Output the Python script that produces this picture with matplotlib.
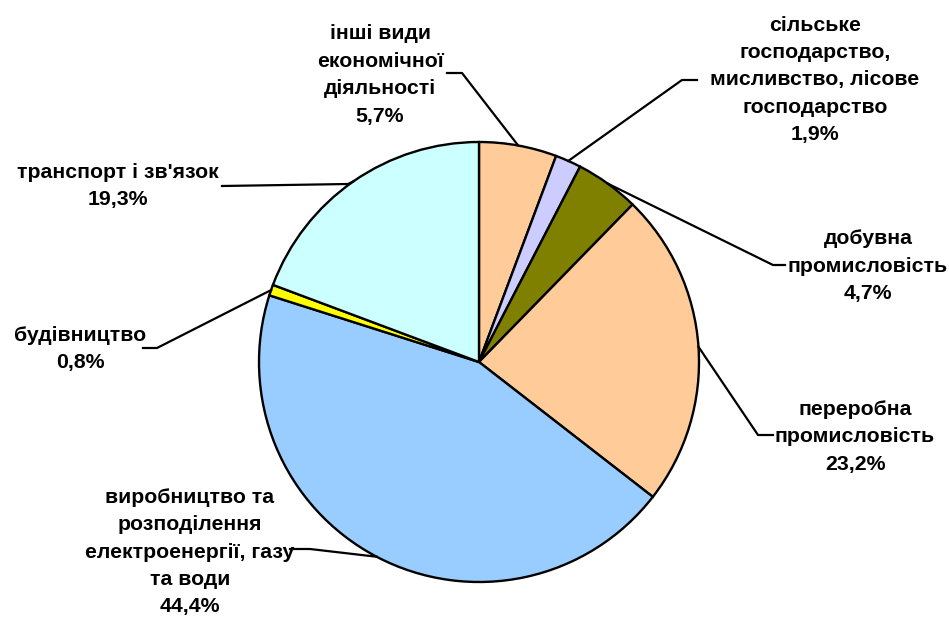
import numpy as np
import matplotlib
matplotlib.use('Agg')
import matplotlib.pyplot as plt

# data, clockwise from 12 o'clock
labels = ['інші види\nекономічної\nдіяльності',
          'сільське\nгосподарство,\nмисливство, лісове\nгосподарство',
          'добувна\nпромисловість',
          'переробна\nпромисловість',
          'виробництво та\nрозподілення\nелектроенергії, газу\nта води',
          'будівництво',
          'транспорт і зв\'язок']
shares = [5.7, 1.9, 4.7, 23.2, 44.4, 0.8, 19.3]
colors = ['#FFCC99', '#CCCCFF', '#808000', '#FFCC99', '#99CCFF', '#FFFF00', '#CCFFFF']

W, H = 950, 618
cx, cy, r = 479, H - 362, 220

# label placement (pixel layout): text centre, elbow point, end of horizontal tick
label_pos = [(380, 75), (815, 80), (868, 266), (855, 437), (190, 552), (80, 349), (118, 186)]
elbows = [((462, 73), (447, 73)),
          ((682, 80), (697, 80)),
          ((773, 265), (785, 265)),
          ((758, 435), (773, 435)),
          ((310, 549), (290, 549)),
          ((157, 348), (143, 348)),
          ((348, 184), (222, 186))]

plt.rcParams['font.family'] = ['Liberation Sans', 'DejaVu Sans']

fig = plt.figure(figsize=(W / 100, H / 100), dpi=100)
ax = fig.add_axes([0, 0, 1, 1])

wedges, _ = ax.pie(shares, colors=colors, startangle=90, counterclock=False,
                   center=(cx, cy), radius=r, frame=True,
                   wedgeprops=dict(edgecolor='black', linewidth=1.7))
ax.set_xlim(0, W)
ax.set_ylim(0, H)
ax.set_aspect('equal')
ax.axis('off')

for w, lab, val, (tx, ty), (e1, e2) in zip(wedges, labels, shares, label_pos, elbows):
    mid = np.deg2rad((w.theta1 + w.theta2) / 2)
    px, py = cx + r * np.cos(mid), cy + r * np.sin(mid)
    ax.plot([px, e1[0], e2[0]], [py, H - e1[1], H - e2[1]], color='black', lw=1.6)
    txt = lab + '\n' + ('%.1f' % val).replace('.', ',') + '%'
    ax.text(tx, H - ty, txt, ha='center', va='center', fontsize=15.3,
            fontweight='bold', linespacing=1.56)

fig.savefig('out.png', dpi=100)
